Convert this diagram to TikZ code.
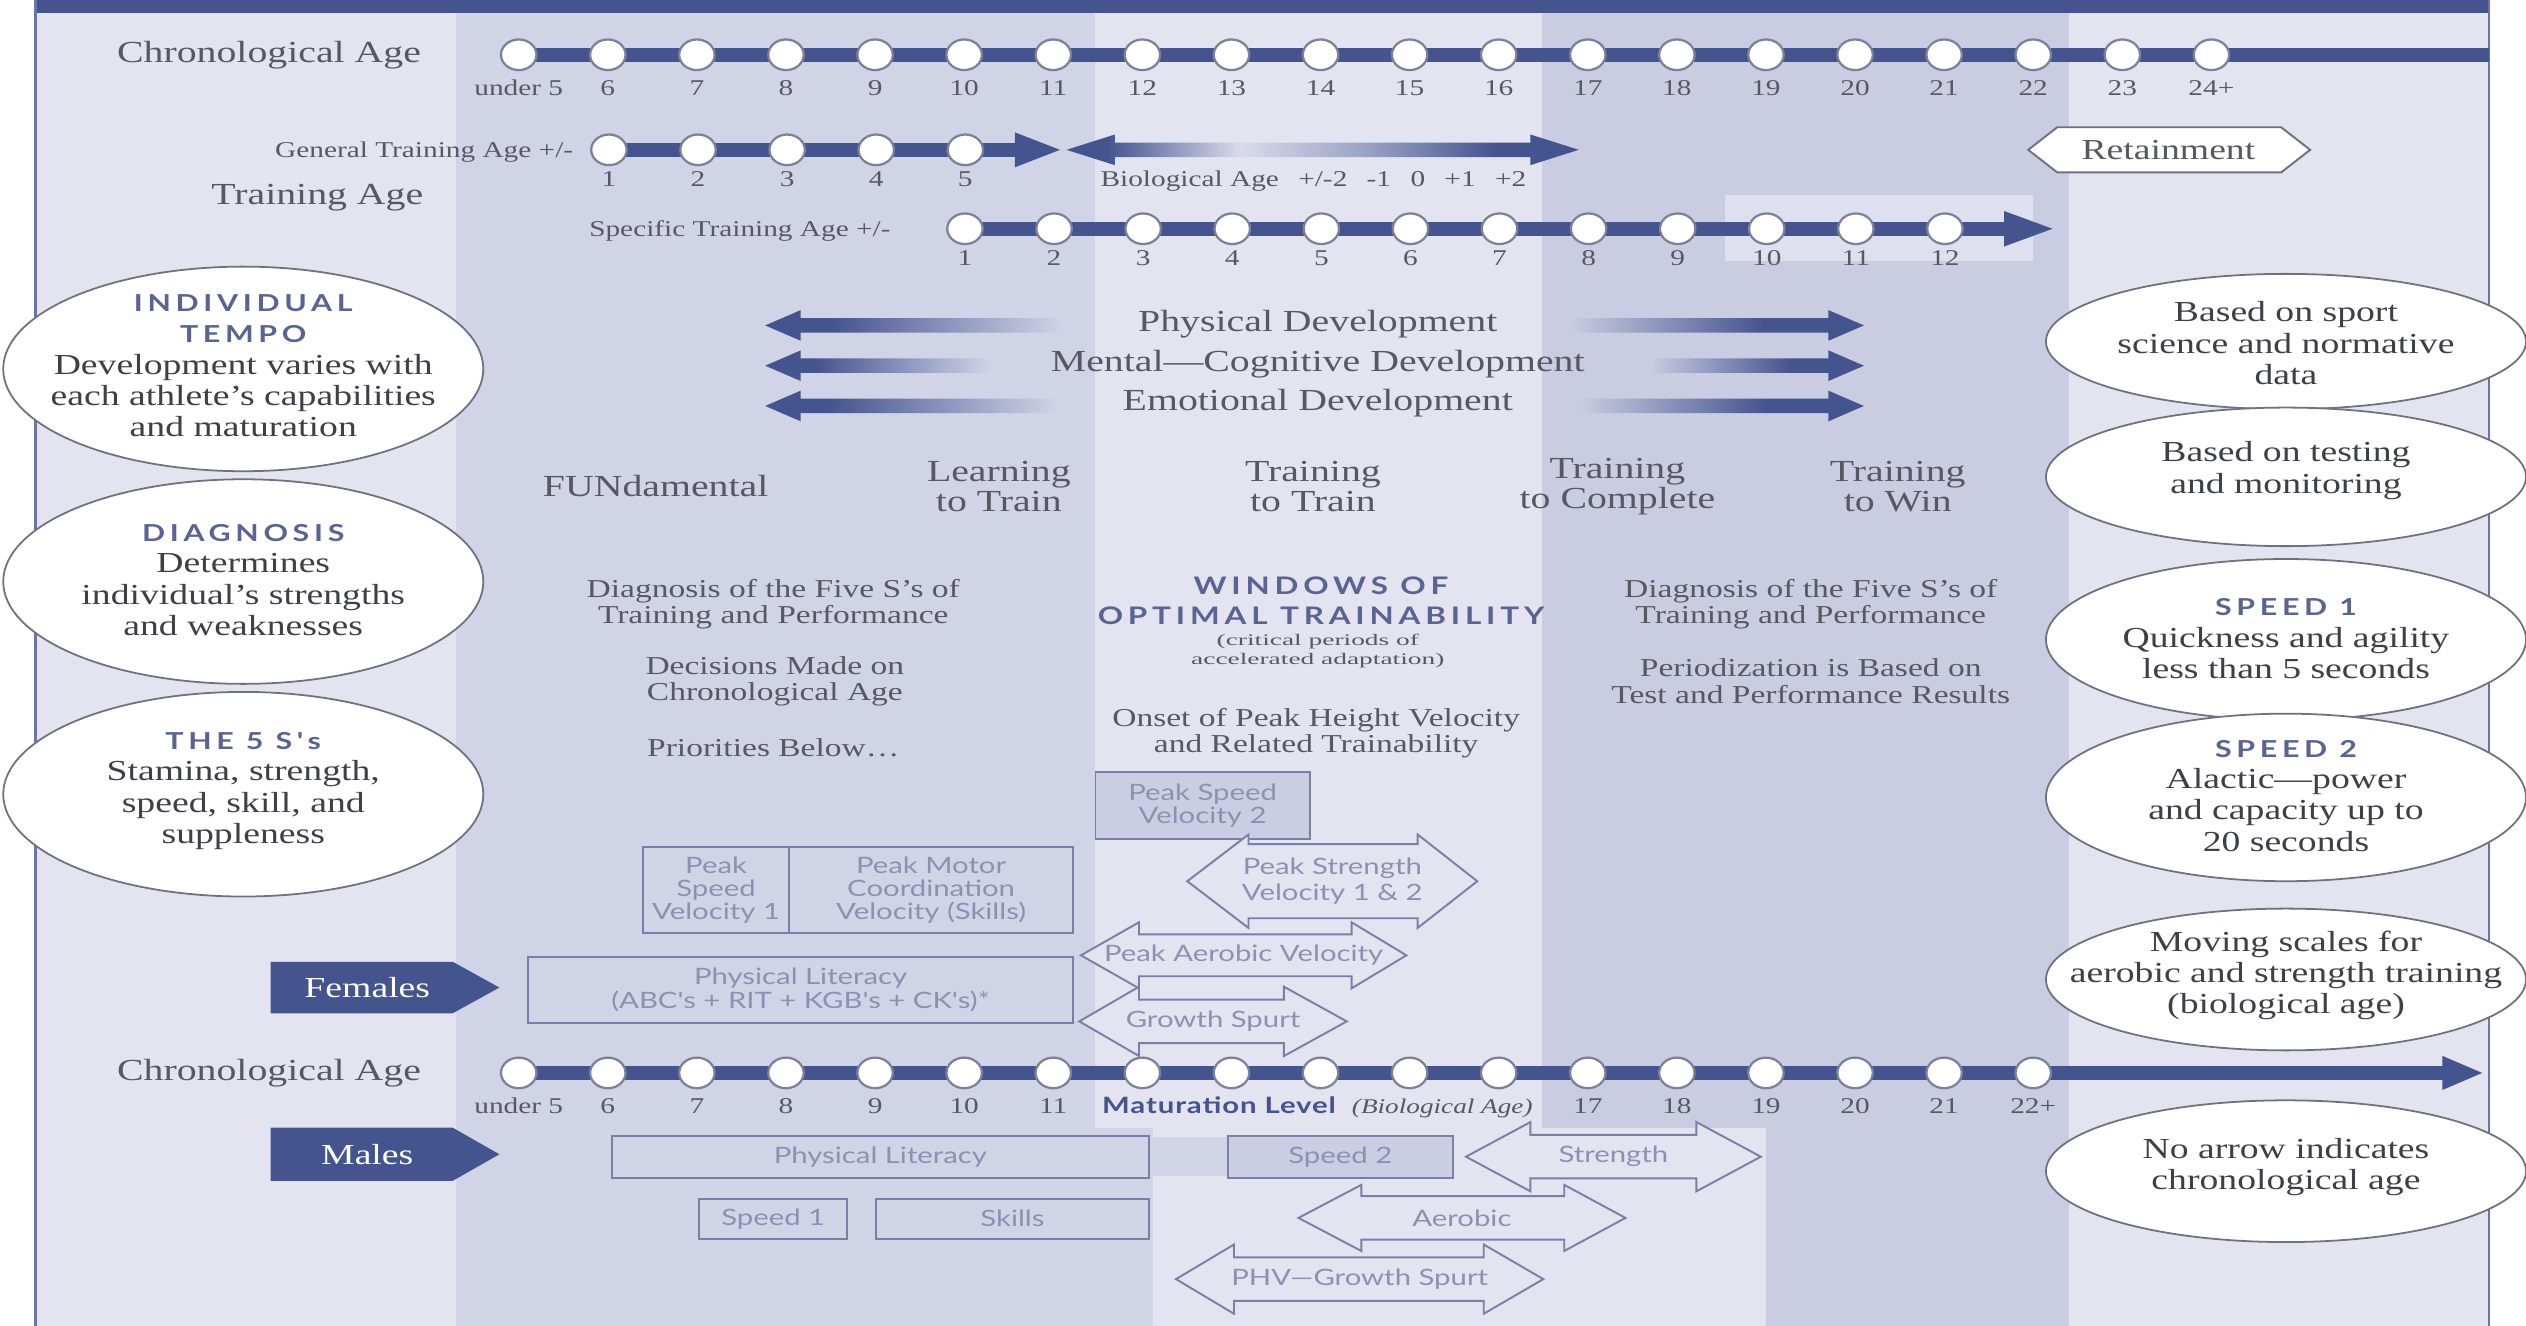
\documentclass[tikz,border=0pt]{standalone}
\usepackage{fontspec}
\setmainfont{Liberation Serif}[FakeStretch=1.3]
\newfontfamily\boxsans{Lato}[FakeStretch=1.3]
\newfontfamily\capsans{Lato}[FakeStretch=1.3,LetterSpace=20]
\newfontfamily\matsans{Lato}[FakeStretch=1.3,LetterSpace=4]
\newfontfamily\tinyserif{Liberation Serif}[FakeStretch=1.7]
\usetikzlibrary{shapes.geometric,arrows.meta}
\definecolor{dkblue}{HTML}{44548F}
\definecolor{bgL}{HTML}{E3E4F0}
\definecolor{bgM}{HTML}{D1D4E7}
\definecolor{bgD}{HTML}{CACDE2}
\definecolor{bgP}{HTML}{DEE0EF}
\definecolor{boxfill}{HTML}{CBCEE3}
\definecolor{txtg}{HTML}{585863}
\definecolor{txtdk}{HTML}{3F3F4A}
\definecolor{boxtxt}{HTML}{8C91B3}
\definecolor{boxline}{HTML}{7880A8}
\definecolor{ellline}{HTML}{707080}
\definecolor{capcol}{HTML}{5A6494}
\definecolor{circline}{HTML}{7D8099}
\definecolor{bioLight}{HTML}{D9DBEC}
\colorlet{bioMid}{dkblue!45!bgL}
\pgfdeclarelayer{bands}
\pgfdeclarelayer{bars}
\pgfsetlayers{bands,bars,main}
\pgfdeclarehorizontalshading{fadeL}{100bp}{color(0bp)=(dkblue); color(36bp)=(dkblue); color(75bp)=(bgM); color(100bp)=(bgM)}
\pgfdeclarehorizontalshading{fadeR}{100bp}{color(0bp)=(bgD); color(25bp)=(bgD); color(58bp)=(dkblue); color(100bp)=(dkblue)}
\pgfdeclarehorizontalshading{bioshade}{100bp}{color(0bp)=(dkblue); color(29bp)=(dkblue); color(42bp)=(bioLight); color(54bp)=(bioMid); color(67bp)=(dkblue); color(100bp)=(dkblue)}
\newcommand{\ellhdr}{\capsans\bfseries\fontsize{14.5}{19.5}\selectfont\color{capcol}}
\newcommand{\dblarr}[9]{%
  \draw[hollow] (#2,#6) -- (#3,#6-#7) -- (#3,#6-#8) -- (#4,#6-#8) -- (#4,#6-#7) -- (#5,#6) -- (#4,#6+#7) -- (#4,#6+#8) -- (#3,#6+#8) -- (#3,#6+#7) -- cycle;
  \node[arrtxt] (#1) at ({(#2+#5)/2},#6) {#9};}
\begin{document}
\begin{tikzpicture}[x=1pt,y=-1pt,
  tldot/.style={ellipse, draw=circline, fill=white, line width=1.4pt, minimum width=22pt, minimum height=19pt, inner sep=0pt},
  tlbar/.style={draw=dkblue, line width=9pt},
  tllab/.style={text=txtg, font=\fontsize{14}{16}\selectfont, anchor=base, inner sep=0pt},
  bigtxt/.style={text=txtg, font=\fontsize{19}{18.5}\selectfont, align=center, inner sep=0pt},
  midtxt/.style={text=txtg, font=\fontsize{16}{16.5}\selectfont, align=center, inner sep=0pt},
  ellshape/.style={ellipse, draw=ellline, fill=white, line width=1.1pt, inner sep=0pt, minimum width=298pt},
  elltxt/.style={text=txtdk, font=\fontsize{18}{19.5}\selectfont, align=center, inner sep=0pt},
  bx/.style={draw=boxline, line width=1.2pt, text=boxtxt, font=\boxsans\fontsize{14}{14.5}\selectfont, align=center, inner sep=0pt},
  hollow/.style={draw=boxline, fill=bgL, line width=1.2pt, line join=miter},
  arrtxt/.style={text=boxtxt, font=\boxsans\fontsize{14}{16}\selectfont, align=center, inner sep=0pt},
  sexlab/.style={text=white, font=\fontsize{18}{20}\selectfont, inner sep=0pt}
]
\useasboundingbox (0,0) rectangle (1568,823);
% ---------- background bands
\begin{pgfonlayer}{bands}
\fill[white] (0,0) rectangle (1568,823);
\fill[bgL] (22,0) rectangle (1545,823);
\fill[bgM] (283,8) rectangle (680,700);
\fill[bgM] (283,700) rectangle (716,823);
\fill[bgM] (716,706) rectangle (762,730);
\fill[bgD] (957,8) rectangle (1284,700);
\fill[bgD] (1096,700) rectangle (1284,823);
\fill[bgP] (1071,121) rectangle (1262,162);
\fill[dkblue] (22,0) rectangle (1545,8);
\draw[dkblue!80, line width=1.5pt] (22,0) -- (22,823) (1545,0) -- (1545,823);
\end{pgfonlayer}

% ---------- chronological age (top)
\node[bigtxt] (chrono1) at (167,34) {Chronological Age};
\foreach \lab [count=\k from 0] in {under 5,6,7,8,9,10,11,12,13,14,15,16,17,18,19,20,21,22,23,24+}{
  \node[tldot] (ca\k) at ({322+55.3*\k},34) {};
  \node[tllab] (cal\k) at ({322+55.3*\k},59) {\lab};
}
\coordinate (caend) at (1545,34);
\begin{pgfonlayer}{bars}
\draw[tlbar] (ca0.center) -- (caend);
\end{pgfonlayer}

% ---------- training ages
\node[bigtxt] (trage) at (197,123) {Training Age};
\node[tllab, anchor=base east] (gtalab) at (356,98) {General Training Age +/-};
\foreach \k in {1,...,5}{
  \node[tldot] (ga\k) at ({378+55.3*(\k-1)},93) {};
  \node[tllab] (gal\k) at ({378+55.3*(\k-1)},116) {\k};
}
\coordinate (gaend) at (660,93);
\begin{pgfonlayer}{bars}
\draw[tlbar, -{Triangle[length=30pt,width=19pt]}] (ga1.center) -- (gaend);
\end{pgfonlayer}

\shade[shading=bioshade] (662,93) -- (692,83.5) -- (692,88.5) -- (950,88.5) -- (950,83.5) -- (980,93) -- (950,102.5) -- (950,97.5) -- (692,97.5) -- (692,102.5) -- cycle;
\node[tllab, anchor=base west] (biolab) at (683,116) {Biological Age\hspace{12pt}+/-2\hspace{12pt}-1\hspace{12pt}0\hspace{12pt}+1\hspace{12pt}+2};

\draw[fill=white, draw=ellline, line width=1.2pt] (1259,93) -- (1277,79) -- (1416,79) -- (1434,93) -- (1416,107) -- (1277,107) -- cycle;
\node[bigtxt, font=\fontsize{18}{20}\selectfont] (retain) at (1346,93) {Retainment};

\node[tllab, anchor=base east] (stalab) at (553,147) {Specific Training Age +/-};
\foreach \k in {1,...,12}{
  \node[tldot] (sa\k) at ({599+55.3*(\k-1)},142) {};
  \node[tllab] (sal\k) at ({599+55.3*(\k-1)},165) {\k};
}
\coordinate (saend) at (1277,142);
\begin{pgfonlayer}{bars}
\draw[tlbar, -{Triangle[length=33pt,width=19pt]}] (sa1.center) -- (saend);
\end{pgfonlayer}

% ---------- development arrows
\shade[shading=fadeL] (475,202) -- (497,192.5) -- (497,197.5) -- (660,197.5) -- (660,206.5) -- (497,206.5) -- (497,211.5) -- cycle;
\shade[shading=fadeL] (475,227) -- (497,217.5) -- (497,222.5) -- (615,222.5) -- (615,231.5) -- (497,231.5) -- (497,236.5) -- cycle;
\shade[shading=fadeL] (475,252) -- (497,242.5) -- (497,247.5) -- (656,247.5) -- (656,256.5) -- (497,256.5) -- (497,261.5) -- cycle;
\shade[shading=fadeR] (974,197.5) -- (1135,197.5) -- (1135,192.5) -- (1157,202) -- (1135,211.5) -- (1135,206.5) -- (974,206.5) -- cycle;
\shade[shading=fadeR] (1024,222.5) -- (1135,222.5) -- (1135,217.5) -- (1157,227) -- (1135,236.5) -- (1135,231.5) -- (1024,231.5) -- cycle;
\shade[shading=fadeR] (980,247.5) -- (1135,247.5) -- (1135,242.5) -- (1157,252) -- (1135,261.5) -- (1135,256.5) -- (980,256.5) -- cycle;
\node[bigtxt] (physdev) at (818,201) {Physical Development};
\node[bigtxt] (mentdev) at (818,226) {Mental—Cognitive Development};
\node[bigtxt] (emodev) at (818,250) {Emotional Development};

% ---------- stages
\node[bigtxt] (st1) at (407,302) {FUNdamental};
\node[bigtxt] (st2) at (620,302) {Learning\\to Train};
\node[bigtxt] (st3) at (815,302) {Training\\to Train};
\node[bigtxt] (st4) at (1004,302) {Training\\to Complete};
\node[bigtxt] (st5) at (1178,302) {Training\\to Win};

% ---------- left ellipses
\node[ellshape, minimum height=127pt] (tempo) at (151,229) {};
\node[elltxt] (tempot) at (151,227) {{\ellhdr INDIVIDUAL}\\{\ellhdr TEMPO}\\Development varies with\\each athlete's capabilities\\and maturation};
\node[ellshape, minimum height=127pt] (diagn) at (151,361) {};
\node[elltxt] (diagnt) at (151,360) {{\ellhdr DIAGNOSIS}\\Determines\\individual's strengths\\and weaknesses};
\node[ellshape, minimum height=127pt] (fives) at (151,493) {};
\node[elltxt] (fivest) at (151,491) {{\ellhdr THE 5 S's}\\Stamina, strength,\\speed, skill, and\\suppleness};

% ---------- right ellipses
\node[ellshape, minimum height=84pt] (r1) at (1419,212) {};
\node[elltxt] (r1t) at (1419,213) {Based on sport\\science and normative\\data};
\node[ellshape, minimum height=86pt] (r2) at (1419,296) {};
\node[elltxt] (r2t) at (1419,292) {Based on testing\\and monitoring};
\node[ellshape, minimum height=100pt] (r3) at (1419,397) {};
\node[elltxt] (r3t) at (1419,396.5) {{\ellhdr SPEED 1}\\Quickness and agility\\less than 5 seconds};
\node[ellshape, minimum height=104pt] (r4) at (1419,495) {};
\node[elltxt] (r4t) at (1419,494) {{\ellhdr SPEED 2}\\Alactic—power\\and capacity up to\\20 seconds};
\node[ellshape, minimum height=88pt] (r5) at (1419,608) {};
\node[elltxt] (r5t) at (1419,605.5) {Moving scales for\\aerobic and strength training\\(biological age)};
\node[ellshape, minimum height=88pt] (r6) at (1419,727) {};
\node[elltxt] (r6t) at (1419,724.5) {No arrow indicates\\chronological age};

% ---------- middle texts
\node[midtxt] (diag1) at (480,375) {Diagnosis of the Five S's of\\Training and Performance};
\node[midtxt] (dec1) at (481,423) {Decisions Made on\\Chronological Age};
\node[midtxt] (prio) at (480,464) {Priorities Below\dots};
\node[midtxt] (diag2) at (1124,375) {Diagnosis of the Five S's of\\Training and Performance};
\node[midtxt] (period) at (1124,423) {Periodization is Based on\\Test and Performance Results};
\node[align=center, inner sep=0pt, text=capcol, font=\capsans\bfseries\fontsize{15}{19}\selectfont] (wot) at (820,373) {WINDOWS OF\\OPTIMAL TRAINABILITY};
\node[align=center, inner sep=0pt, text=txtg, font=\tinyserif\fontsize{10}{11.5}\selectfont] (crit) at (818,404) {(critical periods of\\accelerated adaptation)};
\node[midtxt] (onset) at (817,455) {Onset of Peak Height Velocity\\and Related Trainability};

% ---------- females
\node[bx, fill=boxfill, minimum width=133pt, minimum height=42pt] (psv2) at (746.5,500) {Peak Speed\\Velocity 2};
\node[bx, minimum width=91pt, minimum height=53pt] (psv1) at (444.5,552.5) {Peak\\Speed\\Velocity 1};
\node[bx, minimum width=176pt, minimum height=53pt] (pmcv) at (578,552.5) {Peak Motor\\Coordination\\Velocity (Skills)};
\node[bx, minimum width=338pt, minimum height=41pt, font=\boxsans\fontsize{14}{15}\selectfont] (fpl) at (497,614.5) {Physical Literacy\\(ABC's + RIT + KGB's + CK's)*};
\dblarr{psvel}{737}{775}{880}{917}{547}{29}{23}{Peak Strength\\Velocity 1 \& 2}
\dblarr{pav}{671}{707}{839}{873}{593}{20.5}{13}{Peak Aerobic Velocity}
\dblarr{gsp}{670}{707}{797}{836}{634}{21.5}{13.5}{Growth Spurt}
\fill[dkblue] (168,597) -- (281,597) -- (310,613) -- (281,629) -- (168,629) -- cycle;
\node[sexlab] (fem) at (228,613) {Females};

% ---------- chronological age (bottom)
\node[bigtxt] (chrono2) at (167,666) {Chronological Age};
\foreach \k in {0,...,17}{
  \node[tldot] (cb\k) at ({322+55.3*\k},666) {};
}
\foreach \k/\lab in {0/under 5,1/6,2/7,3/8,4/9,5/10,6/11,12/17,13/18,14/19,15/20,16/21,17/22+}{
  \node[tllab] (cbl\k) at ({322+55.3*\k},691) {\lab};
}
\node[anchor=base west, inner sep=0pt, text=dkblue, font=\matsans\bfseries\fontsize{14}{16}\selectfont] (matl) at (684,691) {Maturation Level};
\node[anchor=base west, inner sep=0pt, text=txtg, font=\itshape\fontsize{13}{15}\selectfont] (bage) at (839,691) {(Biological Age)};
\coordinate (cbend) at (1542,666);
\begin{pgfonlayer}{bars}
\draw[tlbar, -{Triangle[length=26pt,width=19pt]}] (cb0.center) -- (cbend);
\end{pgfonlayer}

% ---------- males
\fill[dkblue] (168,700) -- (281,700) -- (310,716.5) -- (281,733) -- (168,733) -- cycle;
\node[sexlab] (male) at (228,716.5) {Males};
\node[bx, minimum width=333pt, minimum height=26pt] (mpl) at (546.5,718) {Physical Literacy};
\node[bx, minimum width=92pt, minimum height=25pt] (msp1) at (480,756.5) {Speed 1};
\node[bx, minimum width=169pt, minimum height=25pt] (mskl) at (628.5,756.5) {Skills};
\node[bx, fill=boxfill, minimum width=140pt, minimum height=26pt] (msp2) at (832,718) {Speed 2};
\dblarr{mstr}{910}{950}{1053}{1093}{718}{21.5}{13.5}{Strength}
\dblarr{maer}{806}{845}{971}{1009}{756}{20.5}{13.5}{Aerobic}
\dblarr{mphv}{730}{766}{921}{958}{794}{21.5}{13.5}{PHV—Growth Spurt}
\end{tikzpicture}
\end{document}
